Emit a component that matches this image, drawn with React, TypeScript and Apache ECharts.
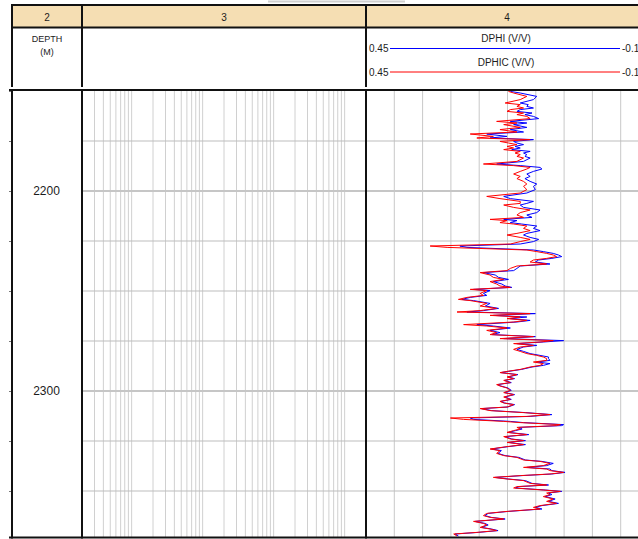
import React, { useEffect, useRef } from "react";
import * as echarts from "echarts";

// Measured depth (m) of each log sample
const DEPTH = [
  2150.2, 2151.0, 2152.7, 2154.3, 2156.0, 2156.8, 2157.7, 2158.5, 2159.3, 2160.2,
  2161.0, 2161.8, 2162.7, 2163.8, 2165.2, 2166.0, 2166.8, 2168.2, 2169.3, 2170.5,
  2171.5, 2172.7, 2173.5, 2174.3, 2175.2, 2176.0, 2176.8, 2177.7, 2178.5, 2179.3,
  2180.2, 2181.0, 2181.8, 2182.7, 2183.5, 2185.2, 2186.5, 2187.3, 2188.2, 2189.0,
  2190.2, 2191.5, 2192.7, 2193.8, 2195.2, 2196.5, 2197.7, 2199.3, 2201.0, 2202.7,
  2203.8, 2205.2, 2206.2, 2207.0, 2208.2, 2209.5, 2210.8, 2212.0, 2213.2, 2214.2,
  2214.8, 2215.8, 2216.5, 2217.5, 2218.7, 2219.8, 2221.2, 2222.0, 2223.2, 2224.2,
  2225.3, 2226.5, 2227.5, 2228.2, 2229.5, 2230.3, 2231.2, 2232.0, 2232.8, 2233.7,
  2234.5, 2235.5, 2236.5, 2237.5, 2238.7, 2239.8, 2240.8, 2242.0, 2243.2, 2244.2,
  2245.3, 2246.5, 2247.5, 2248.2, 2249.2, 2249.8, 2251.2, 2252.2, 2253.2, 2254.2,
  2254.8, 2256.2, 2257.5, 2258.7, 2259.8, 2260.5, 2261.3, 2262.2, 2263.0, 2263.8,
  2264.7, 2265.5, 2266.8, 2267.5, 2268.5, 2269.7, 2270.8, 2271.8, 2272.8, 2273.8,
  2274.8, 2275.5, 2276.3, 2277.2, 2278.0, 2279.2, 2280.2, 2281.3, 2282.2, 2283.0,
  2283.8, 2284.7, 2285.5, 2286.3, 2287.2, 2288.0, 2289.2, 2290.2, 2290.8, 2291.8,
  2293.0, 2293.8, 2294.7, 2295.8, 2296.8, 2297.5, 2298.5, 2299.7, 2300.8, 2301.8,
  2303.0, 2304.2, 2305.2, 2306.0, 2306.8, 2308.0, 2308.8, 2309.8, 2310.8, 2311.8,
  2312.7, 2313.5, 2314.2, 2315.2, 2315.8, 2316.8, 2317.3, 2318.2, 2319.0, 2319.8,
  2320.7, 2321.8, 2322.8, 2324.0, 2324.8, 2325.7, 2326.8, 2327.8, 2329.0, 2329.8,
  2331.2, 2332.3, 2333.2, 2334.5, 2335.2, 2336.2, 2337.3, 2338.2, 2339.0, 2339.8,
  2340.7, 2341.5, 2342.3, 2343.2, 2344.0, 2344.8, 2346.2, 2347.0, 2347.8, 2348.5,
  2349.5, 2350.2, 2351.0, 2351.8, 2352.8, 2354.0, 2355.2, 2356.2, 2357.3, 2358.2,
  2359.0, 2360.2, 2361.2, 2362.3, 2363.2, 2364.0, 2365.2, 2366.2, 2367.0, 2368.2,
  2369.0, 2369.8, 2370.7, 2371.5, 2372.5,
];

// Density porosity (V/V)
const DPHI = [
  0.144, 0.123, 0.088, 0.095, 0.123, 0.106, 0.109, 0.095, 0.123, 0.130,
  0.098, 0.113, 0.095, 0.084, 0.144, 0.109, 0.137, 0.109, 0.144, 0.116,
  0.194, 0.151, 0.187, 0.095, 0.137, 0.130, 0.116, 0.134, 0.123, 0.141,
  0.102, 0.116, 0.109, 0.113, 0.102, 0.116, 0.173, 0.123, 0.081, 0.077,
  0.095, 0.109, 0.102, 0.113, 0.102, 0.088, 0.095, 0.091, 0.109, 0.158,
  0.144, 0.095, 0.109, 0.123, 0.116, 0.081, 0.088, 0.109, 0.098, 0.158,
  0.130, 0.144, 0.120, 0.088, 0.095, 0.081, 0.109, 0.116, 0.102, 0.084,
  0.095, 0.123, 0.251, 0.236, 0.095, 0.074, 0.053, 0.042, 0.035, 0.056,
  0.084, 0.091, 0.060, 0.123, 0.130, 0.137, 0.201, 0.176, 0.169, 0.148,
  0.180, 0.162, 0.155, 0.141, 0.222, 0.187, 0.201, 0.194, 0.229, 0.247,
  0.222, 0.187, 0.197, 0.169, 0.201, 0.236, 0.091, 0.180, 0.109, 0.144,
  0.102, 0.130, 0.215, 0.180, 0.144, 0.187, 0.166, 0.183, 0.091, 0.158,
  0.031, 0.074, 0.130, 0.088, 0.116, 0.130, 0.116, 0.102, 0.081, 0.063,
  0.063, 0.060, 0.088, 0.060, 0.074, 0.098, 0.120, 0.148, 0.164, 0.128,
  0.149, 0.135, 0.156, 0.142, 0.171, 0.164, 0.149, 0.142, 0.156, 0.135,
  0.156, 0.142, 0.164, 0.156, 0.135, 0.149, 0.205, 0.184, 0.112, 0.056,
  0.102, 0.229, 0.222, 0.144, 0.116, 0.031, 0.035, 0.126, 0.119, 0.133,
  0.148, 0.105, 0.155, 0.141, 0.112, 0.148, 0.112, 0.148, 0.184, 0.163,
  0.170, 0.155, 0.126, 0.112, 0.077, 0.053, 0.067, 0.109, 0.060, 0.056,
  0.028, 0.056, 0.119, 0.177, 0.148, 0.112, 0.098, 0.063, 0.126, 0.133,
  0.070, 0.035, 0.063, 0.056, 0.070, 0.049, 0.063, 0.042, 0.077, 0.091,
  0.077, 0.148, 0.191, 0.198, 0.184, 0.155, 0.219, 0.198, 0.191, 0.205,
  0.184, 0.170, 0.212, 0.261, 0.254,
];

// Corrected density porosity (V/V)
const DPHIC = [
  0.148, 0.137, 0.109, 0.123, 0.155, 0.123, 0.130, 0.116, 0.144, 0.151,
  0.116, 0.130, 0.109, 0.102, 0.173, 0.130, 0.158, 0.123, 0.166, 0.130,
  0.229, 0.180, 0.215, 0.102, 0.166, 0.148, 0.130, 0.151, 0.137, 0.158,
  0.123, 0.134, 0.123, 0.130, 0.116, 0.130, 0.201, 0.137, 0.102, 0.109,
  0.123, 0.137, 0.123, 0.130, 0.116, 0.109, 0.116, 0.109, 0.123, 0.194,
  0.166, 0.123, 0.123, 0.158, 0.137, 0.102, 0.123, 0.130, 0.116, 0.187,
  0.151, 0.166, 0.137, 0.109, 0.116, 0.102, 0.130, 0.151, 0.123, 0.102,
  0.123, 0.144, 0.314, 0.278, 0.109, 0.088, 0.067, 0.053, 0.046, 0.067,
  0.095, 0.102, 0.067, 0.130, 0.144, 0.151, 0.208, 0.187, 0.180, 0.158,
  0.187, 0.173, 0.166, 0.144, 0.229, 0.194, 0.208, 0.201, 0.236, 0.254,
  0.229, 0.194, 0.208, 0.173, 0.208, 0.257, 0.102, 0.187, 0.123, 0.151,
  0.109, 0.137, 0.243, 0.194, 0.151, 0.194, 0.173, 0.187, 0.095, 0.166,
  0.053, 0.081, 0.137, 0.095, 0.123, 0.137, 0.123, 0.109, 0.088, 0.074,
  0.067, 0.067, 0.095, 0.074, 0.081, 0.102, 0.123, 0.151, 0.166, 0.130,
  0.151, 0.137, 0.158, 0.144, 0.173, 0.166, 0.151, 0.144, 0.158, 0.137,
  0.158, 0.144, 0.166, 0.158, 0.137, 0.151, 0.208, 0.187, 0.116, 0.060,
  0.109, 0.271, 0.243, 0.158, 0.123, 0.038, 0.046, 0.130, 0.123, 0.137,
  0.151, 0.109, 0.158, 0.144, 0.116, 0.151, 0.116, 0.151, 0.187, 0.166,
  0.173, 0.158, 0.130, 0.116, 0.081, 0.060, 0.074, 0.116, 0.067, 0.060,
  0.031, 0.060, 0.123, 0.180, 0.151, 0.116, 0.102, 0.067, 0.130, 0.137,
  0.074, 0.038, 0.067, 0.060, 0.074, 0.053, 0.067, 0.046, 0.081, 0.095,
  0.081, 0.151, 0.194, 0.201, 0.187, 0.158, 0.222, 0.201, 0.194, 0.208,
  0.187, 0.173, 0.215, 0.264, 0.257,
];

const DEPTH_TOP = 2150;
const DEPTH_BASE = 2373;
const DEPTH_STEP = 25;

// Depth grid lines across the log tracks
const DEPTH_LINES = [2175, 2200, 2225, 2250, 2275, 2300, 2325, 2350];

// Track 3: logarithmic scale 0.2 – 2000, grid at every 1..9 of each decade
const LOG_MIN = 0.2;
const LOG_MAX = 2000;
const LOG_GRID = [
  0.3, 0.4, 0.5, 0.6, 0.7, 0.8, 0.9,
  1, 2, 3, 4, 5, 6, 7, 8, 9,
  10, 20, 30, 40, 50, 60, 70, 80, 90,
  100, 200, 300, 400, 500, 600, 700, 800, 900,
  1000,
];

// Track 4: porosity scale, 0.45 on the left to -0.15 on the right
const PHI_LEFT = 0.45;
const PHI_RIGHT = -0.15;
const PHI_GRID = [0.39, 0.33, 0.27, 0.21, 0.15, 0.09, 0.03, -0.03, -0.09];

const FONT = "'Liberation Sans', Arial, Helvetica, sans-serif";
const INK = "#1c1c1c";
const BORDER = "#111111";

function verticalGrid(axisIndex: number, values: number[], color: string, yRef: number) {
  return {
    type: "custom",
    xAxisIndex: axisIndex,
    yAxisIndex: axisIndex,
    silent: true,
    z: 1,
    encode: { x: 0, y: 1 },
    data: values.map((v) => [v, yRef]),
    renderItem: (params: any, api: any) => {
      const cs = params.coordSys;
      const x = api.coord([api.value(0), api.value(1)])[0];
      return {
        type: "line",
        shape: { x1: x, y1: cs.y, x2: x, y2: cs.y + cs.height },
        style: { stroke: color, lineWidth: 1 },
      };
    },
  };
}

function depthGrid(axisIndex: number, xRef: number) {
  return {
    type: "custom",
    xAxisIndex: axisIndex,
    yAxisIndex: axisIndex,
    silent: true,
    z: 1,
    encode: { x: 0, y: 1 },
    data: DEPTH_LINES.map((d) => [xRef, d]),
    renderItem: (params: any, api: any) => {
      const cs = params.coordSys;
      const d = api.value(1);
      const y = api.coord([api.value(0), d])[1];
      const major = d % 100 === 0;
      return {
        type: "line",
        shape: { x1: cs.x, y1: y, x2: cs.x + cs.width, y2: y },
        style: { stroke: major ? "#c6c6c6" : "#bdbdbd", lineWidth: major ? 2 : 1 },
      };
    },
  };
}

function hLine(x1: number, x2: number, y: number, w = 2, stroke = BORDER) {
  return { type: "line", z: 100, silent: true, shape: { x1, y1: y, x2, y2: y }, style: { stroke, lineWidth: w } };
}
function vLine(x: number, y1: number, y2: number, w = 2, stroke = BORDER) {
  return { type: "line", z: 100, silent: true, shape: { x1: x, y1, x2: x, y2 }, style: { stroke, lineWidth: w } };
}
function label(text: string, x: number, y: number, size: number, align = "center") {
  return {
    type: "text",
    z: 101,
    silent: true,
    style: { text, x, y, align, verticalAlign: "middle", fontSize: size, fontFamily: FONT, fill: INK },
  };
}

function depthAxis(gridIndex: number, showLabels: boolean) {
  return {
    gridIndex,
    type: "value",
    inverse: true,
    min: DEPTH_TOP,
    max: DEPTH_BASE,
    interval: DEPTH_STEP,
    axisLine: { show: false },
    axisTick: { show: showLabels, length: 3, lineStyle: { color: "#777" } },
    axisLabel: showLabels
      ? {
          show: true,
          inside: true,
          margin: 34.5,
          align: "center",
          fontSize: 12,
          fontFamily: FONT,
          color: INK,
          formatter: (v: number) => (v % 100 === 0 ? String(v) : ""),
        }
      : { show: false },
    splitLine: { show: false },
  };
}

export default function App() {
  const ref = useRef<HTMLDivElement>(null);

  useEffect(() => {
    if (!ref.current) return;
    const chart = echarts.init(ref.current, undefined, { renderer: "svg" });

    const RIGHT = 700;
    chart.setOption({
      animation: false,
      backgroundColor: "#ffffff",
      grid: [
        { left: 12, top: 91, width: 70, height: 446 },
        { left: 82, top: 91, width: 284, height: 446 },
        { left: 366, top: 91, width: 283, height: 446 },
      ],
      xAxis: [
        { gridIndex: 0, type: "value", min: 0, max: 1, show: false },
        { gridIndex: 1, type: "log", logBase: 10, min: LOG_MIN, max: LOG_MAX, show: false },
        { gridIndex: 2, type: "value", min: PHI_RIGHT, max: PHI_LEFT, inverse: true, show: false },
      ],
      yAxis: [depthAxis(0, true), depthAxis(1, false), depthAxis(2, false)],
      series: [
        verticalGrid(1, LOG_GRID, "#d0d0d0", DEPTH_TOP),
        depthGrid(1, 1),
        verticalGrid(2, PHI_GRID, "#c8c8c8", DEPTH_TOP),
        depthGrid(2, 0.15),
        {
          name: "DPHI",
          type: "line",
          xAxisIndex: 2,
          yAxisIndex: 2,
          data: DEPTH.map((d, i) => [DPHI[i], d]),
          symbol: "none",
          silent: true,
          z: 3,
          lineStyle: { color: "#0000ff", width: 1 },
        },
        {
          name: "DPHIC",
          type: "line",
          xAxisIndex: 2,
          yAxisIndex: 2,
          data: DEPTH.map((d, i) => [DPHIC[i], d]),
          symbol: "none",
          silent: true,
          z: 4,
          lineStyle: { color: "#ff0000", width: 1 },
        },
      ],
      graphic: [
        // faint rule above the header
        hLine(268, 405, 1.5, 2, "#cfcfcf"),
        // track number band
        { type: "rect", z: 90, silent: true, shape: { x: 12, y: 5, width: RIGHT, height: 22 }, style: { fill: "#f5deb3" } },
        hLine(11, RIGHT, 5, 2),
        hLine(11, RIGHT, 27.5, 2),
        vLine(12, 4, 87, 2),
        vLine(82, 4, 87, 2),
        vLine(366, 4, 87, 2),
        // track frames
        hLine(9, RIGHT, 90, 2),
        hLine(9, RIGHT, 537.5, 2),
        vLine(12, 89, 538.5, 2),
        vLine(82, 89, 538.5, 2),
        vLine(366, 89, 538.5, 2),
        vLine(649.5, 89, 538.5, 2),
        vLine(649.5, 4, 87, 2),
        // header texts
        label("2", 47, 17, 10),
        label("3", 224, 17, 10),
        label("4", 507, 17, 10),
        label("DEPTH", 47, 38.5, 9),
        label("(M)", 47, 51.5, 9),
        label("DPHI (V/V)", 506, 38.5, 10),
        label("0.45", 369, 48.5, 10, "left"),
        label("-0.15", 622, 48.5, 10, "left"),
        hLine(390, 620, 48.5, 1, "#0000ff"),
        label("DPHIC (V/V)", 506, 62, 10),
        label("0.45", 369, 72, 10, "left"),
        label("-0.15", 622, 72, 10, "left"),
        hLine(390, 620, 72, 1, "#ff0000"),
      ],
    });

    return () => chart.dispose();
  }, []);

  return (
    <div style={{ position: "fixed", left: 0, top: 0, width: 638, height: 539, overflow: "hidden", background: "#fff" }}>
      <div ref={ref} style={{ width: 680, height: 539 }} />
    </div>
  );
}
